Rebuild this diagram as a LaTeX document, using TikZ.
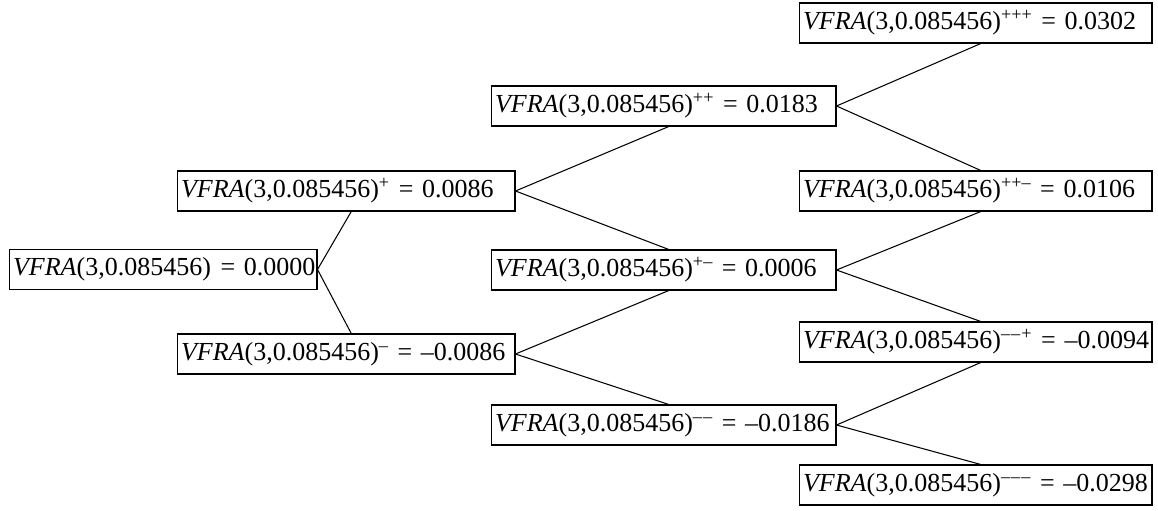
\documentclass[tikz,border=0pt]{standalone}
\usepackage{fontspec}
\setmainfont{Liberation Serif}
\usetikzlibrary{positioning}
\tikzstyle{lattice}=[rectangle, draw, line width=0.6pt, align=left, minimum height=0.8cm, inner xsep=0.08cm, inner ysep=0pt, font=\fontsize{14.8}{17}\selectfont]
\tikzstyle{colzero}=[lattice, text width=6.0cm]
\tikzstyle{colone}=[lattice, text width=6.6cm]
\tikzstyle{coltwo}=[lattice, text width=6.74cm]
\tikzstyle{colthree}=[lattice, text width=6.9cm]
\tikzstyle{branch}=[line width=0.6pt]
\newcommand{\vfra}[2]{\mbox{\textit{VFRA}(3,0.085456)\textsuperscript{#1} = #2}}
\newcommand{\dn}{--\kern0.06em}

\begin{document}
\begin{tikzpicture}[x=0.02cm,y=-0.02cm]
  \useasboundingbox (0,0) rectangle (1158,510);
  % today
  \node[colzero] (root) at (163,269.5) {\vfra{}{0.0000}};
  % first step
  \node[colone] (u) at (346,191) {\vfra{+}{0.0086}};
  \node[colone] (d) at (346,354) {\vfra{--}{--0.0086}};
  % second step
  \node[coltwo] (uu) at (663.5,106) {\vfra{++}{0.0183}};
  \node[coltwo] (ud) at (663.5,270) {\vfra{+--}{0.0006}};
  \node[coltwo] (dd) at (663.5,425) {\vfra{\dn--}{--0.0186}};
  % third step
  \node[colthree] (uuu) at (975.5,23) {\vfra{+++}{0.0302}};
  \node[colthree] (uud) at (975.5,191) {\vfra{++--}{0.0106}};
  \node[colthree] (ddu) at (975.5,342) {\vfra{\dn\dn+}{--0.0094}};
  \node[colthree] (ddd) at (975.5,485) {\vfra{\dn\dn--}{--0.0298}};

    \draw[branch] (root.east) -- ([xshift=3pt]u.south);
    \draw[branch] (root.east) -- ([xshift=3pt]d.north);
    \draw[branch] (u.east) -- ([xshift=3pt]uu.south);
    \draw[branch] (u.east) -- ([xshift=3pt]ud.north);
    \draw[branch] (d.east) -- ([xshift=3pt]ud.south);
    \draw[branch] (d.east) -- ([xshift=3pt]dd.north);
    \draw[branch] (uu.east) -- ([xshift=3pt]uuu.south);
    \draw[branch] (uu.east) -- ([xshift=3pt]uud.north);
    \draw[branch] (ud.east) -- ([xshift=3pt]uud.south);
    \draw[branch] (ud.east) -- ([xshift=3pt]ddu.north);
    \draw[branch] (dd.east) -- ([xshift=3pt]ddu.south);
    \draw[branch] (dd.east) -- ([xshift=3pt]ddd.north);
\end{tikzpicture}
\end{document}
